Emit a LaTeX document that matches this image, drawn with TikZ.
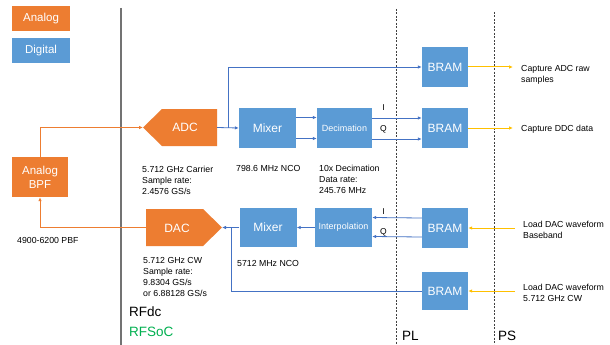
\documentclass[tikz,border=0pt]{standalone}
\usepackage{fontspec}
\setmainfont{Liberation Sans}
\usetikzlibrary{arrows.meta}
\definecolor{anorange}{HTML}{ED7D31}
\definecolor{digblue}{HTML}{5B9BD5}
\definecolor{linkblue}{HTML}{4472C4}
\definecolor{ylw}{HTML}{FFC000}
\definecolor{rfgreen}{HTML}{00B050}
\tikzset{
  dblock/.style={fill=digblue, text=white, inner sep=0pt, font=\fontsize{12}{14}\selectfont},
  ablock/.style={fill=anorange, text=white, inner sep=0pt, font=\fontsize{12}{14}\selectfont},
  smalltxt/.style={anchor=north west, inner sep=0pt, align=left, font=\fontsize{8.75}{11}\selectfont},
  bigtxt/.style={anchor=north west, inner sep=0pt, font=\fontsize{13.5}{15}\selectfont},
  bline/.style={draw=linkblue, line width=0.8pt},
  barrow/.style={bline, -{Latex[length=4pt,width=3.5pt]}},
  oarrow/.style={draw=anorange, line width=0.8pt, -{Latex[length=4pt,width=3.5pt]}},
  yarrow/.style={draw=ylw, line width=1pt, -{Latex[length=4pt,width=3.5pt]}},
  zone/.style={draw=black!75, line width=0.9pt, dash pattern=on 2pt off 1.5pt},
  iq/.style={inner sep=0pt, font=\fontsize{8.5}{10}\selectfont}
}
\begin{document}
\begin{tikzpicture}[x=1pt,y=-1pt]
\useasboundingbox (0,0) rectangle (610,345);
\fill[white] (0,0) rectangle (610,345);
% legend
\node[ablock, minimum width=58, minimum height=25, font=\fontsize{11.5}{13}\selectfont] (leganalog) at (41,18.5) {Analog};
\node[dblock, minimum width=58, minimum height=25, font=\fontsize{11.5}{13}\selectfont] (legdigital) at (41,50.5) {Digital};
% boundaries
\draw[draw=black!55, line width=1.2pt] (121,8) coordinate (rfl1) -- (121,345) coordinate (rfl2);
\draw[zone] (396,9) coordinate (pl1) -- (396,345) coordinate (pl2);
\draw[zone] (494,12) coordinate (ps1) -- (494,345) coordinate (ps2);
% analog BPF
\node[ablock, minimum width=56, minimum height=40, align=center, font=\fontsize{11.5}{14}\selectfont] (bpf) at (40,177) {Analog\\BPF};
% ADC (pointing left)
\fill[anorange] (143,127.5) -- (162,109) -- (217,109) -- (217,146) -- (162,146) -- cycle;
\coordinate (adctip) at (143,127.5);
\node[inner sep=0pt, text=white, font=\fontsize{12}{14}\selectfont] (adc) at (185,127.5) {ADC};
\coordinate (adcout) at (217,127.5);
% DAC (pointing right)
\fill[anorange] (146,209) -- (203,209) -- (222,227.5) -- (203,246) -- (146,246) -- cycle;
\coordinate (dactip) at (222,227.5);
\coordinate (dacin) at (146,227.5);
\node[inner sep=0pt, text=white, font=\fontsize{12}{14}\selectfont] (dac) at (177,228) {DAC};
% digital blocks
\node[dblock, minimum width=57, minimum height=40] (mixa) at (267.5,128) {Mixer};
\node[dblock, minimum width=55, minimum height=40, font=\fontsize{9}{11}\selectfont] (deci) at (344.5,128) {Decimation};
\node[dblock, minimum width=57, minimum height=39] (mixb) at (268,227.5) {Mixer};
\node[dblock, minimum width=57, minimum height=39, font=\fontsize{9}{11}\selectfont] (interp) at (343.5,227.5) {Interpolation};
\node[dblock, minimum width=46, minimum height=40] (brama) at (445,67) {BRAM};
\node[dblock, minimum width=46, minimum height=40] (bramb) at (445,128) {BRAM};
\node[dblock, minimum width=46, minimum height=40] (bramc) at (445,228) {BRAM};
\node[dblock, minimum width=46, minimum height=38] (bramd) at (445,291) {BRAM};
% analog connectors
\draw[oarrow] (bpf.north) |- (adctip);
\draw[oarrow] (dacin) -| (bpf.south);
% ADC path
\coordinate (jadc) at (228,127.5);
\draw[barrow] (adcout) -- (mixa.west);
\draw[barrow] (jadc) |- (brama.west);
\draw[barrow] ([yshift=-10.5pt]mixa.east) -- ([yshift=-10.5pt]deci.west);
\draw[barrow] ([yshift=10.5pt]mixa.east) -- ([yshift=10.5pt]deci.west);
\draw[barrow] ([yshift=-11pt]deci.east) -- ([yshift=-11pt]bramb.west);
\draw[barrow] ([yshift=10pt]deci.east) -- ([yshift=10pt]bramb.west);
\node[iq] (ia) at (383.5,108) {I};
\node[iq] (qa) at (383.5,129) {Q};
\coordinate (capa) at (513,67);
\coordinate (capb) at (513,128);
\draw[yarrow] (brama.east) -- (capa);
\draw[yarrow] (bramb.east) -- (capb);
% DAC path
\draw[barrow] ([yshift=-9pt]bramc.west) -- ([yshift=-9pt]interp.east);
\draw[barrow] ([yshift=10pt]bramc.west) -- ([yshift=10pt]interp.east);
\node[iq] (ib) at (383.5,212) {I};
\node[iq] (qb) at (383.5,232) {Q};
\draw[barrow] (interp.west) -- (mixb.east);
\draw[barrow] (mixb.west) -- (dactip);
\coordinate (jdac) at (231,227.5);
\draw[bline] (bramd.west) -| (jdac);
\coordinate (lda) at (515,228);
\coordinate (ldb) at (515,291);
\draw[yarrow] (lda) -- (bramc.east);
\draw[yarrow] (ldb) -- (bramd.east);
% annotations
\node[smalltxt] (pbf) at (17,237) {4900-6200 PBF};
\node[smalltxt] (adcinfo) at (142,166) {5.712 GHz Carrier\\Sample rate:\\2.4576 GS/s};
\node[smalltxt] (dacinfo) at (143,257) {5.712 GHz CW\\Sample rate:\\9.8304 GS/s\\or 6.88128 GS/s};
\node[smalltxt] (ncoa) at (236,165) {798.6 MHz NCO};
\node[smalltxt] (decinfo) at (319,165) {10x Decimation\\Data rate:\\245.76 MHz};
\node[smalltxt] (ncob) at (237,260) {5712 MHz NCO};
\node[smalltxt] (capatxt) at (521,65) {Capture ADC raw\\samples};
\node[smalltxt] (capbtxt) at (521,125) {Capture DDC data};
\node[smalltxt] (ldatxt) at (523,221) {Load DAC waveform\\Baseband};
\node[smalltxt] (ldbtxt) at (523,284) {Load DAC waveform\\5.712 GHz CW};
\node[bigtxt] (rfdc) at (129,307) {RFdc};
\node[bigtxt, text=rfgreen] (rfsoc) at (129,327) {RFSoC};
\node[bigtxt] (pltxt) at (402,331) {PL};
\node[bigtxt] (pstxt) at (498,331) {PS};
\end{tikzpicture}
\end{document}
